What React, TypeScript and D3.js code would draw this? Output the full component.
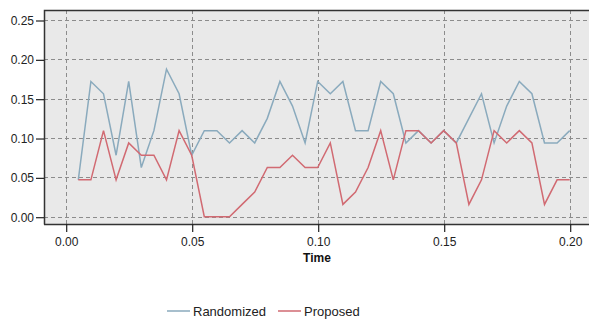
import React, { useEffect, useRef } from 'react'
import * as d3 from 'd3'

// values are in 1/64 steps
const times = d3.range(1, 41).map((i) => +(i * 0.005).toFixed(3))
const randomized = [
  3, 11, 10, 5, 11, 4, 7, 12, 10, 5,
  7, 7, 6, 7, 6, 8, 11, 9, 6, 11,
  10, 11, 7, 7, 11, 10, 6, 7, 6, 7,
  6, 8, 10, 6, 9, 11, 10, 6, 6, 7,
].map((k) => k / 64)
const proposed = [
  3, 3, 7, 3, 6, 5, 5, 3, 7, 5,
  0, 0, 0, 1, 2, 4, 4, 5, 4, 4,
  6, 1, 2, 4, 7, 3, 7, 7, 6, 7,
  6, 1, 3, 7, 6, 7, 6, 1, 3, 3,
].map((k) => k / 64)
const xTicks = [0, 0.05, 0.1, 0.15, 0.2]
const yTicks = [0, 0.05, 0.1, 0.15, 0.2, 0.25]
const seriesNames = ['Randomized', 'Proposed']
const seriesColors = ['#8aaabd', '#d16a72']

const W = 589
const H = 320

const App = () => {
  const svgRef = useRef<SVGSVGElement>(null)

  useEffect(() => {
    const svg = d3.select(svgRef.current)
    svg.selectAll('*').remove()

    const plot = { left: 44, top: 10, right: 589, bottom: 224 }
    const x = d3.scaleLinear().domain([0, 0.2]).range([65.7, 569.7])
    const y = d3.scaleLinear().domain([0, 0.25]).range([216.7, 20])
    const font = 'Liberation Sans, Arial, sans-serif'

    svg
      .append('rect')
      .attr('x', plot.left)
      .attr('y', plot.top)
      .attr('width', plot.right - plot.left)
      .attr('height', plot.bottom - plot.top)
      .attr('fill', '#e9e9e9')

    // grid
    const grid = svg.append('g').attr('stroke', '#8c8c8c').attr('stroke-dasharray', '4,3')
    grid
      .selectAll('line.h')
      .data(yTicks)
      .join('line')
      .attr('x1', plot.left)
      .attr('x2', plot.right)
      .attr('y1', (d) => Math.round(y(d)) + 0.5)
      .attr('y2', (d) => Math.round(y(d)) + 0.5)
    grid
      .selectAll('line.v')
      .data(xTicks)
      .join('line')
      .attr('y1', plot.top)
      .attr('y2', plot.bottom)
      .attr('x1', (d) => Math.round(x(d)) + 0.5)
      .attr('x2', (d) => Math.round(x(d)) + 0.5)

    // lines
    const data = [randomized, proposed]
    const line = d3
      .line<number>()
      .x((d, i) => x(times[i]))
      .y((d) => y(d))
    svg
      .append('g')
      .selectAll('path')
      .data(data)
      .join('path')
      .attr('d', (d) => line(d))
      .attr('fill', 'none')
      .attr('stroke', (d, i) => seriesColors[i])
      .attr('stroke-width', 1.5)

    // frame
    svg
      .append('path')
      .attr('d', `M${plot.left + 0.5},${plot.bottom + 0.5}V${plot.top + 0.5}H${plot.right}`)
      .attr('fill', 'none')
      .attr('stroke', '#333')
      .attr('stroke-width', 1.5)
    svg
      .append('line')
      .attr('x1', plot.left)
      .attr('x2', plot.right)
      .attr('y1', plot.bottom + 0.5)
      .attr('y2', plot.bottom + 0.5)
      .attr('stroke', '#333')
      .attr('stroke-width', 1.5)

    // axes
    const xAxis = svg
      .append('g')
      .attr('transform', `translate(0.5,${plot.bottom})`)
      .call(d3.axisBottom(x).tickValues(xTicks).tickFormat(d3.format('.2f')).tickSize(8).tickPadding(5))
    xAxis.select('.domain').remove()
    const yAxis = svg
      .append('g')
      .attr('transform', `translate(${plot.left},0.5)`)
      .call(d3.axisLeft(y).tickValues(yTicks).tickFormat(d3.format('.2f')).tickSize(8).tickPadding(2))
    yAxis.select('.domain').remove()
    svg
      .selectAll('.tick line')
      .attr('stroke', '#222')
      .attr('stroke-width', 1.2)
    svg
      .selectAll('.tick text')
      .attr('fill', '#222')
      .style('font-family', font)
      .style('font-size', '12px')

    svg
      .append('text')
      .text('Time')
      .attr('x', 317)
      .attr('y', 262)
      .attr('text-anchor', 'middle')
      .style('font-family', font)
      .style('font-size', '12px')
      .style('font-weight', 'bold')
      .attr('fill', '#111')

    // legend
    const legendX = [167, 278]
    const lg = svg
      .append('g')
      .selectAll('g')
      .data(seriesNames)
      .join('g')
      .attr('transform', (d, i) => `translate(${legendX[i]},311)`)
    lg.append('line')
      .attr('x1', 0)
      .attr('x2', 23)
      .attr('stroke', (d, i) => seriesColors[i])
      .attr('stroke-width', 1.5)
    lg.append('text')
      .text((d) => d)
      .attr('x', 26)
      .attr('y', 5)
      .style('font-family', font)
      .style('font-size', '13px')
      .attr('fill', '#222')
  }, [])

  return (
    <svg
      ref={svgRef}
      width={W}
      height={H}
      style={{ position: 'absolute', left: 0, top: 0 }}
    ></svg>
  )
}

export default App
